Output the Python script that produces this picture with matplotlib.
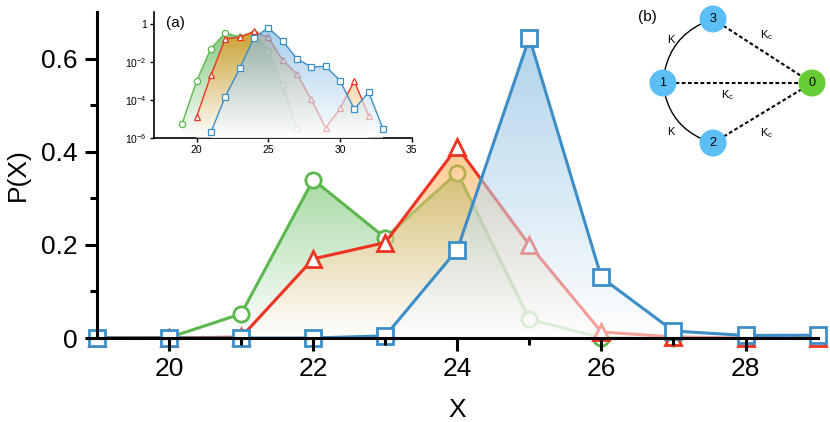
import numpy as np
import matplotlib
matplotlib.use("Agg")
import matplotlib.pyplot as plt
from matplotlib.patches import Circle, FancyArrowPatch
from matplotlib.ticker import NullLocator

plt.rcParams['font.family'] = ['Liberation Sans', 'DejaVu Sans']
plt.rcParams['mathtext.fontset'] = 'custom'
plt.rcParams['mathtext.rm'] = 'Liberation Sans'
plt.rcParams['mathtext.it'] = 'Liberation Sans:italic'

# distribution P(X) for the three cases
x_vals = np.arange(19, 34)
p_green = [5.8e-6, 1.0e-3, 0.052, 0.34, 0.215, 0.355, 0.04, 6.3e-4, 3.0e-6, 0, 0, 0, 0, 0, 0]
p_red = [0, 1.3e-5, 2.0e-3, 0.17, 0.205, 0.41, 0.20, 0.013, 2.4e-3, 1.1e-4, 3.4e-6, 3.6e-5, 1.0e-3, 1.5e-5, 0]
p_blue = [0, 0, 2.0e-6, 1.5e-4, 4.6e-3, 0.19, 0.645, 0.13, 0.015, 5.5e-3, 6.0e-3, 1.07e-3, 3.3e-5, 2.6e-4, 3.0e-6]

main_xticks = [20, 22, 24, 26, 28]
main_yticks = [0, 0.2, 0.4, 0.6]
inset_xticks = [20, 25, 30, 35]
inset_yticks = [1, 1e-2, 1e-4, 1e-6]
inset_ylabels = ['1', r'$10^{-2}$', r'$10^{-4}$', r'$10^{-6}$']

# network panel (b)
node_names = ['3', '1', '2', '0']
node_x = [713, 663, 713, 812]
node_y = [19, 83, 143, 83]
node_cols = ['#5bbff5', '#5bbff5', '#5bbff5', '#66cc33']
solid_edges = [(1, 0, -0.33), (1, 2, 0.33)]
dashed_edges = [(0, 3), (1, 3), (2, 3)]
edge_labels = ['K', 'K', r'$\mathrm{K_c}$', r'$\mathrm{K_c}$', r'$\mathrm{K_c}$']
edge_lx = [671, 671, 767, 728, 767]
edge_ly = [40, 132, 35, 95, 133]

green = '#5cb84e'
red = '#ee3322'
blue = '#3d8ec6'
series = [
    (p_green, green, (0.36, 0.73, 0.33), (0.28, 0.68, 0.24), 'o', 1),
    (p_red, red, (1.00, 0.62, 0.22), (0.93, 0.55, 0.02), '^', 3),
    (p_blue, blue, (0.44, 0.69, 0.86), (0.45, 0.70, 0.88), 's', 5),
]


def gradient_fill(ax, x, y, base, rgb, alpha, zorder):
    poly = ax.fill_between(x, y, base, facecolor='none', edgecolor='none')
    top = ax.transAxes.inverted().transform(ax.transData.transform((x[0], max(y))))[1]
    f = np.linspace(0, 1, 256)
    t = np.clip(f / top, 0, 1)[:, None]
    img = np.ones((256, 1, 4))
    img[:, :, :3] = 1 - (1 - np.array(rgb)) * t[..., None]
    img[:, :, 3] = alpha
    im = ax.imshow(img, extent=(0, 1, 0, 1), transform=ax.transAxes, origin='lower',
                   aspect='auto', zorder=zorder, interpolation='bilinear')
    im.set_clip_path(poly.get_paths()[0], transform=ax.transData)


fig = plt.figure(figsize=(8.3, 4.22), dpi=100)

# main panel
ax = fig.add_axes([0.117, 0.199, 0.868, 0.7725])
ax.set_xlim(19, 29)
ax.set_ylim(0, 0.7)
ax.set_autoscale_on(False)
mask = x_vals <= 29
for vals, col, frgb, _, mk, z in series:
    y = np.array(vals)[mask]
    xx = x_vals[mask]
    gradient_fill(ax, xx, y, 0, frgb, 0.55, z)
    ax.plot(xx, y, color=col, lw=2.2, marker=mk, ms=11, mfc='white', mec=col,
            mew=2.0, clip_on=False, zorder=z + 0.5)

for s in ['top', 'right']:
    ax.spines[s].set_visible(False)
for s in ['left', 'bottom']:
    ax.spines[s].set_linewidth(2.2)
    ax.spines[s].set_zorder(20)
ax.xaxis.set_zorder(20)
ax.yaxis.set_zorder(20)
ax.set_xticks(main_xticks)
ax.set_xticks([21, 23, 25, 27], minor=True)
ax.set_yticks(main_yticks)
ax.set_yticklabels(['%g' % v for v in main_yticks])
ax.set_yticks([0.1, 0.3, 0.5], minor=True)
ax.tick_params(which='major', direction='out', length=9, width=2.2, labelsize=19, pad=5)
ax.tick_params(which='minor', direction='out', length=5, width=2.2)
ax.set_xlabel('X', fontsize=19, labelpad=12)
ax.set_ylabel('P(X)', fontsize=19, labelpad=8)

# inset (a): log scale
axi = fig.add_axes([0.185, 0.673, 0.311, 0.299])
axi.set_yscale('log')
axi.set_xlim(17, 35)
axi.set_ylim(1e-6, 10 ** 0.65)
axi.set_autoscale_on(False)
for vals, col, _, frgb, mk, z in series:
    y = np.array(vals)
    pos = y > 0
    gradient_fill(axi, x_vals[pos], y[pos], 1e-6, frgb, 0.65, z)
    axi.plot(x_vals[pos], y[pos], color=col, lw=1.0, marker=mk, ms=4.5, mfc='white',
             mec=col, mew=0.9, zorder=z + 0.5)
for s in ['top', 'right']:
    axi.spines[s].set_visible(False)
for s in ['left', 'bottom']:
    axi.spines[s].set_linewidth(1.2)
axi.set_xticks(inset_xticks)
axi.set_yticks(inset_yticks)
axi.set_yticklabels(inset_ylabels)
axi.yaxis.set_minor_locator(NullLocator())
axi.tick_params(direction='out', length=3, width=1, labelsize=7.5, pad=2)
axi.text(0.05, 0.97, '(a)', transform=axi.transAxes, fontsize=11, va='top', ha='left')

# panel (b): network
axn = fig.add_axes([630 / 830, 1 - 170 / 422, 200 / 830, 170 / 422])
axn.set_xlim(630, 830)
axn.set_ylim(170, 0)
axn.axis('off')
circles = []
for i, name in enumerate(node_names):
    c = Circle((node_x[i], node_y[i]), 13.5, facecolor=node_cols[i], edgecolor='none', zorder=3)
    axn.add_patch(c)
    circles.append(c)
    axn.text(node_x[i], node_y[i], name, fontsize=9, ha='center', va='center', zorder=4)
for a, b, rad in solid_edges:
    p = FancyArrowPatch((node_x[a], node_y[a]), (node_x[b], node_y[b]), arrowstyle='-',
                        connectionstyle='arc3,rad=%g' % rad, patchA=circles[a], patchB=circles[b],
                        shrinkA=0, shrinkB=0, lw=1.0, color='black', zorder=2)
    axn.add_patch(p)
for a, b in dashed_edges:
    axn.plot([node_x[a], node_x[b]], [node_y[a], node_y[b]], color='black', lw=1.5,
             ls=(0, (1.8, 1.2)), zorder=1)
for lab, lx, ly in zip(edge_labels, edge_lx, edge_ly):
    axn.text(lx, ly, lab, fontsize=8, ha='center', va='center')
axn.text(647, 17, '(b)', fontsize=11, ha='center', va='center')

fig.savefig('out.png', dpi=100)
